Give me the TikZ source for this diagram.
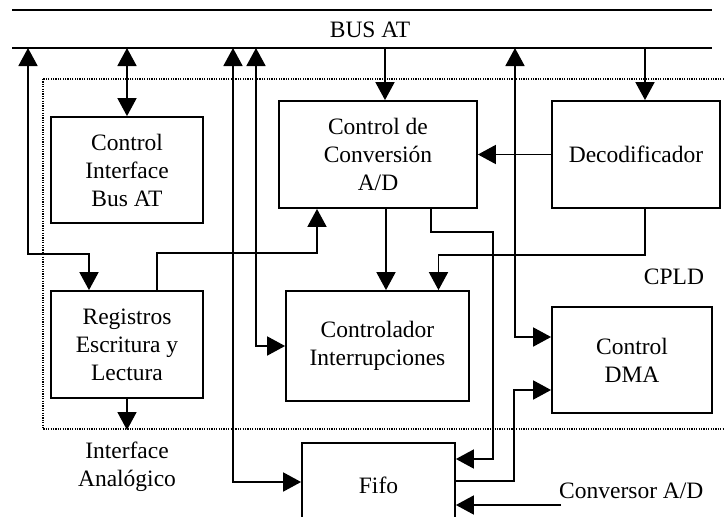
\documentclass[tikz,border=0pt]{standalone}
\usepackage{fontspec}
\setmainfont{Liberation Serif}
\usetikzlibrary{arrows.meta,calc}
\begin{document}
\begin{tikzpicture}[x=1pt,y=-1pt,
  box/.style={draw,line width=1.8pt,align=center,inner sep=0pt},
  wire/.style={line width=1.8pt},
  lbl/.style={align=center,inner sep=0pt},
  cpld/.style={line width=1.2pt,dash pattern=on 1.2pt off 1.2pt},
  >={Triangle[length=18pt,width=19pt]},
  font=\fontsize{23.5}{28}\selectfont]
\useasboundingbox (0,0) rectangle (724,517);
% bus
\coordinate (busTL) at (12,10);
\coordinate (busTR) at (712,10);
\coordinate (busBL) at (12,48);
\coordinate (busBR) at (712,48);
\draw[wire] (busTL) -- (busTR);
\draw[wire] (busBL) -- (busBR);
\node[lbl] (bus) at (370,30) {BUS AT};
% CPLD region
\draw[cpld] (43,79) rectangle (745,429);
\node[lbl] (cpld) at (674,277) {CPLD};
% blocks
\node[box,minimum width=152pt,minimum height=106pt] (cib) at (127,170) {Control\\Interface\\Bus AT};
\node[box,minimum width=198pt,minimum height=107pt] (cad) at (378,154.5) {Control de\\Conversión\\A/D};
\node[box,minimum width=168pt,minimum height=107pt] (dec) at (636,154.5) {Decodificador};
\node[box,minimum width=152pt,minimum height=107pt] (reg) at (127,344.5) {Registros\\Escritura y\\Lectura};
\node[box,minimum width=183pt,minimum height=110pt] (ctrl) at (377.5,346) {Controlador\\Interrupciones};
\node[box,minimum width=160pt,minimum height=106pt] (dma) at (632,360) {Control\\DMA};
\node[box,minimum width=153pt,minimum height=84pt] (fifo) at (378.5,485) {Fifo};
\node[lbl] (ia) at (127,467) {Interface\\Analógico};
\node[lbl,anchor=west] (conv) at (559,491) {Conversor A/D};
\coordinate (iatip) at (127,430);
\coordinate (convstart) at (561,505);
% connectors
\draw[wire,<->] ([xshift=16pt]busBL) -- ++(0,206) -| ([xshift=-38pt]reg.north);
\draw[wire,<->] (busBL -| cib.north) -- (cib.north);
\draw[wire,<->] (busBL -| 233,0) |- ([yshift=3pt]fifo.west);
\draw[wire,<->] (busBL -| 256,0) |- (ctrl.west);
\draw[wire,->] (busBL -| 385,0) -- ([xshift=7pt]cad.north);
\draw[wire,->] (busBL -| 645,0) -- ([xshift=9pt]dec.north);
\draw[wire,->] (dec.west) -- (cad.east);
\draw[wire,<->] (busBL -| 515,0) |- ([yshift=23pt]dma.west);
\draw[wire,->] ([xshift=30pt]reg.north) -- ++(0,-37) -| ([xshift=-61pt]cad.south);
\draw[wire,->] ([xshift=8pt]cad.south) -- ([xshift=8pt]cad.south |- ctrl.north);
\draw[wire,->] ([xshift=53pt]cad.south) -- ++(0,23) -| ($([yshift=26pt]fifo.east)+(37,0)$) -- ([yshift=26pt]fifo.east);
\draw[wire,->] ([xshift=9pt]dec.south) -- ++(0,46) -| ([xshift=61pt]ctrl.north);
\draw[wire,->] (reg.south) -- (iatip);
\draw[wire,->] ([yshift=4pt]fifo.east) -| ($([yshift=-30pt]dma.west)+(-37,0)$) -- ([yshift=-30pt]dma.west);
\draw[wire,->] (convstart) -- (convstart -| fifo.east);
\end{tikzpicture}
\end{document}
